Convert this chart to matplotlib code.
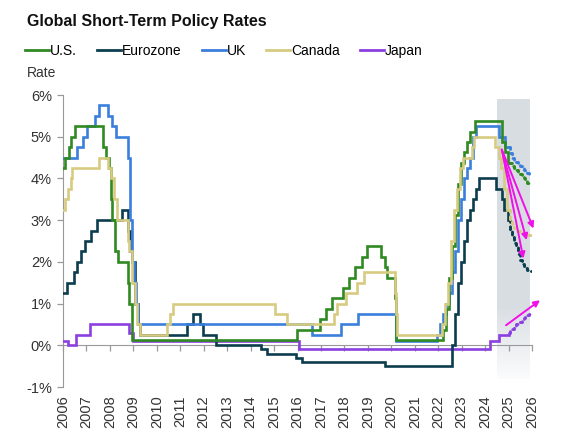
import numpy as np
import matplotlib
matplotlib.use("Agg")
import matplotlib.pyplot as plt
from matplotlib.lines import Line2D

plt.rcParams['font.family'] = ['Liberation Sans', 'DejaVu Sans']

# ---- data (decimal years, policy rate %) ----
us_dates = [2006.0, 2006.08, 2006.24, 2006.36, 2006.49, 2007.71, 2007.83, 2007.95, 2008.06, 2008.08,
            2008.21, 2008.33, 2008.77, 2008.83, 2008.96, 2015.96, 2016.95, 2017.21, 2017.46, 2017.96,
            2018.21, 2018.46, 2018.73, 2018.97, 2019.58, 2019.71, 2019.83, 2020.17, 2020.21, 2022.21,
            2022.34, 2022.46, 2022.57, 2022.72, 2022.84, 2022.96, 2023.09, 2023.22, 2023.34, 2023.57,
            2024.72, 2024.85, 2024.97, 2025.0]
us_rates = [4.25, 4.5, 4.75, 5.0, 5.25, 4.75, 4.5, 4.25, 3.5, 3.0,
            2.25, 2.0, 1.5, 1.0, 0.125, 0.375, 0.625, 0.875, 1.125, 1.375,
            1.625, 1.875, 2.125, 2.375, 2.125, 1.875, 1.625, 1.125, 0.125, 0.375,
            0.875, 1.625, 2.375, 3.125, 3.875, 4.375, 4.625, 4.875, 5.125, 5.375,
            4.875, 4.625, 4.375, 4.375]

ez_dates = [2006.0, 2006.19, 2006.45, 2006.6, 2006.78, 2006.95, 2007.2, 2007.45, 2008.53, 2008.79,
            2008.87, 2008.94, 2009.06, 2009.19, 2009.27, 2011.28, 2011.53, 2011.86, 2011.95, 2012.53,
            2014.44, 2014.69, 2015.94, 2016.21, 2019.72, 2022.57, 2022.71, 2022.84, 2022.97, 2023.1,
            2023.22, 2023.36, 2023.47, 2023.59, 2023.72, 2024.45, 2024.72, 2024.81, 2024.97, 2025.0]
ez_rates = [1.25, 1.5, 1.75, 2.0, 2.25, 2.5, 2.75, 3.0, 3.25, 2.75,
            2.25, 2.0, 1.0, 0.5, 0.25, 0.5, 0.75, 0.5, 0.25, 0.0,
            -0.1, -0.2, -0.3, -0.4, -0.5, 0.0, 0.75, 1.5, 2.0, 2.5,
            3.0, 3.25, 3.5, 3.75, 4.0, 3.75, 3.5, 3.25, 3.0, 3.0]

uk_dates = [2006.0, 2006.6, 2006.86, 2007.03, 2007.36, 2007.52, 2007.93, 2008.1, 2008.27, 2008.77,
            2008.85, 2008.93, 2009.02, 2009.1, 2009.18, 2016.6, 2017.84, 2018.59, 2020.19, 2020.21,
            2021.96, 2022.09, 2022.2, 2022.34, 2022.46, 2022.59, 2022.72, 2022.84, 2022.96, 2023.09,
            2023.22, 2023.36, 2023.47, 2023.59, 2024.59, 2024.85, 2025.0]
uk_rates = [4.5, 4.75, 5.0, 5.25, 5.5, 5.75, 5.5, 5.25, 5.0, 4.5,
            3.0, 2.0, 1.5, 1.0, 0.5, 0.25, 0.5, 0.75, 0.25, 0.1,
            0.25, 0.5, 0.75, 1.0, 1.25, 1.75, 2.25, 3.0, 3.5, 4.0,
            4.25, 4.5, 5.0, 5.25, 5.0, 4.75, 4.75]

ca_dates = [2006.0, 2006.07, 2006.2, 2006.33, 2006.4, 2007.53, 2007.93, 2008.06, 2008.17, 2008.31,
            2008.77, 2008.8, 2008.94, 2009.05, 2009.17, 2009.3, 2010.43, 2010.55, 2010.68, 2015.05,
            2015.54, 2017.54, 2017.68, 2018.05, 2018.54, 2018.82, 2020.17, 2020.2, 2020.24, 2022.18,
            2022.28, 2022.42, 2022.53, 2022.69, 2022.82, 2022.93, 2023.07, 2023.44, 2023.53, 2024.43,
            2024.57, 2024.68, 2024.82, 2024.95, 2025.0]
ca_rates = [3.25, 3.5, 3.75, 4.0, 4.25, 4.5, 4.25, 4.0, 3.5, 3.0,
            2.5, 2.25, 1.5, 1.0, 0.5, 0.25, 0.5, 0.75, 1.0, 0.75,
            0.5, 0.75, 1.0, 1.25, 1.5, 1.75, 1.25, 0.75, 0.25, 0.5,
            1.0, 1.5, 2.5, 3.25, 3.75, 4.25, 4.5, 4.75, 5.0, 4.75,
            4.5, 4.25, 3.75, 3.25, 3.25]

jp_dates = [2006.0, 2006.2, 2006.55, 2007.15, 2008.83, 2008.97, 2016.08, 2024.2, 2024.58, 2025.0]
jp_rates = [0.1, 0.0, 0.25, 0.5, 0.3, 0.1, -0.1, 0.1, 0.25, 0.25]

# forecast (dotted) section
fc_dates = [2025.0, 2025.08, 2025.16, 2025.24, 2025.32, 2025.4, 2025.48, 2025.56, 2025.64, 2025.72,
            2025.8, 2025.88, 2025.95]
us_fc = [4.375, 4.375, 4.3, 4.25, 4.2, 4.125, 4.1, 4.05, 4.0, 3.95, 3.9, 3.875, 3.875]
ez_fc = [3.0, 2.75, 2.6, 2.45, 2.35, 2.2, 2.05, 1.95, 1.9, 1.85, 1.8, 1.78, 1.78]
uk_fc = [4.75, 4.6, 4.5, 4.45, 4.4, 4.35, 4.3, 4.25, 4.2, 4.15, 4.12, 4.1, 4.1]
ca_fc = [3.25, 3.0, 2.9, 2.8, 2.75, 2.75, 2.7, 2.7, 2.65, 2.65, 2.65, 2.65, 2.65]
jp_fc = [0.3, 0.35, 0.4, 0.45, 0.5, 0.55, 0.55, 0.6, 0.65, 0.7, 0.72, 0.75, 0.75]

# magenta arrows: (start, end)
arrows = [((2024.71, 4.69), (2026.06, 2.80)),
          ((2024.71, 4.69), (2025.77, 2.52)),
          ((2024.71, 4.69), (2025.63, 2.08)),
          ((2024.89, 0.48), (2026.34, 1.08))]

forecast_span = (2024.5, 2025.9)
years = list(range(2006, 2027))
yticks = [-1, 0, 1, 2, 3, 4, 5, 6]

series = [
    ("U.S.", us_dates, us_rates, us_fc, "#2f8a22"),
    ("Eurozone", ez_dates, ez_rates, ez_fc, "#0c3d4e"),
    ("UK", uk_dates, uk_rates, uk_fc, "#3b7fdc"),
    ("Canada", ca_dates, ca_rates, ca_fc, "#d6cb80"),
    ("Japan", jp_dates, jp_rates, jp_fc, "#8c3fe0"),
]
draw_order = ["Japan", "Eurozone", "UK", "U.S.", "Canada"]

fig = plt.figure(figsize=(5.75, 4.38), dpi=100)
ax = fig.add_axes([0.1096, 0.1164, 0.8157, 0.6667])

# shaded forecast window, fading out towards the bottom
grad = np.ones((100, 1, 4))
grad[..., 0] = 0.85
grad[..., 1] = 0.87
grad[..., 2] = 0.89
pos = np.linspace(0, 1, 100)
grad[:, 0, 3] = np.where(pos < 0.75, 1.0, np.clip((1 - pos) / 0.25, 0, 1) * 0.85 + 0.1)
ax.imshow(grad, extent=[forecast_span[0], forecast_span[1], -0.8, 5.9], aspect='auto', zorder=0,
          interpolation='bilinear')

lookup = {s[0]: s for s in series}
for name in draw_order:
    label, d, r, fc, col = lookup[name]
    ax.plot(d, r, drawstyle='steps-post', color=col, lw=1.9, zorder=3, solid_joinstyle='miter')
    ax.plot(fc_dates, fc, drawstyle='steps-post', color=col, lw=2.1, zorder=3,
            linestyle=(0, (1, 1.5)), dash_capstyle='round')

for (x0, y0), (x1, y1) in arrows:
    ax.annotate('', xy=(x1, y1), xytext=(x0, y0), zorder=5, annotation_clip=False,
                arrowprops=dict(arrowstyle='-|>', color='#f010e8', lw=1.4, mutation_scale=9,
                                shrinkA=0, shrinkB=0))

ax.set_xlim(2006, 2026)
ax.set_ylim(-1, 6)
ax.set_yticks(yticks)
ax.set_yticklabels([f"{v}%" for v in yticks], fontsize=10.5, color='#333333')
ax.tick_params(axis='y', direction='out', length=4, width=0.9, color='#999999', pad=4)

for s in ['top', 'right']:
    ax.spines[s].set_visible(False)
ax.spines['left'].set_color('#999999')
ax.spines['bottom'].set_position(('data', 0))
ax.spines['bottom'].set_color('#999999')
ax.set_xticks(years)
ax.tick_params(axis='x', direction='out', length=4, width=0.9, color='#999999', labelbottom=False)

sec = ax.secondary_xaxis('bottom')
sec.set_xticks(years)
sec.set_xticklabels([str(y) for y in years], rotation=90, fontsize=10.5, color='#333333')
sec.tick_params(length=0, pad=6)
sec.spines['bottom'].set_visible(False)

fig.text(0.047, 0.95, "Global Short-Term Policy Rates", fontsize=11.5, fontweight='bold',
         va='center', ha='left', color='#111111')
fig.text(0.047, 0.833, "Rate", fontsize=10, va='center', ha='left', color='#333333')

handles = [Line2D([0], [0], color=s[4], lw=2) for s in series]
fig.legend(handles, [s[0] for s in series], loc='center left', bbox_to_anchor=(0.043, 0.884),
           ncol=5, frameon=False, handlelength=1.75, handletextpad=0.05, columnspacing=1.45,
           borderpad=0, borderaxespad=0, prop={'size': 10})

fig.savefig("out.png", dpi=100, facecolor='white')
